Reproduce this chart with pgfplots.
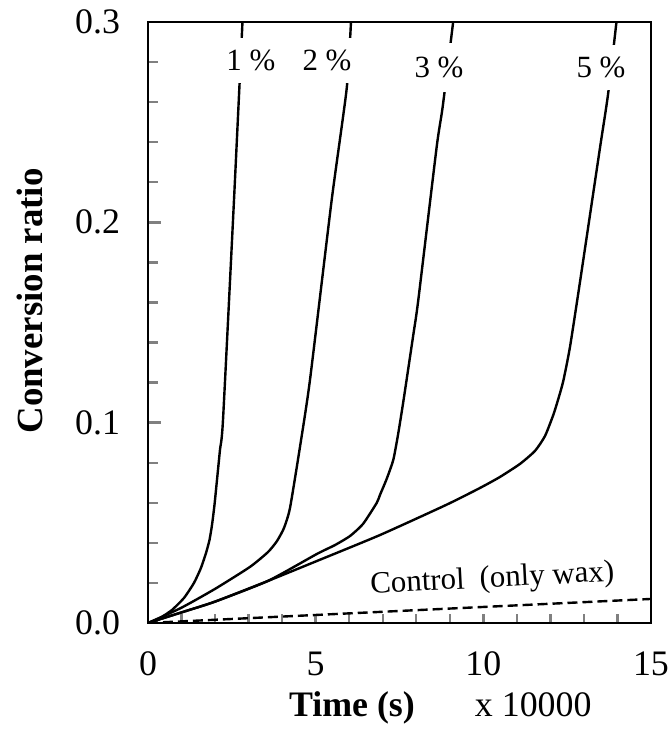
\documentclass[border=0pt]{standalone}
\usepackage{fontspec}
\setmainfont{Liberation Serif}
\usepackage{pgfplots}
\pgfplotsset{compat=1.18}
\begin{document}
\begin{tikzpicture}
\begin{axis}[
  scale only axis,
  width=251.5bp, height=300.5bp,
  xmin=0, xmax=15, ymin=0, ymax=0.3,
  clip mode=individual,
  axis line style={line width=1.4bp},
  tick align=inside,
  xtick pos=bottom, ytick pos=left,
  xtick={0,5,10,15}, ytick={0,0.1,0.2,0.3},
  minor x tick num=4, minor y tick num=4,
  xtick style={line width=1.2bp,/pgfplots/major tick length=4.5bp,/pgfplots/minor tick length=4.5bp},
  ytick style={line width=1.2bp,/pgfplots/major tick length=6.3bp,/pgfplots/minor tick length=5bp},
  /pgf/number format/assume math mode=true,
  yticklabel style={/pgf/number format/fixed,/pgf/number format/fixed zerofill,/pgf/number format/precision=1,xshift=-10.5bp},
  xticklabel style={yshift=-11bp},
  tick label style={font=\fontsize{18}{22}\selectfont},
  scaled y ticks=false,
  xlabel={\textbf{Time (s)}},
  ylabel={\textbf{Conversion ratio}},
  xlabel style={font=\fontsize{18}{22}\selectfont, at={(axis description cs:0.4056,-0.1564)}, anchor=base},
  ylabel style={font=\fontsize{18.5}{22}\selectfont, at={(axis description cs:-0.2346,0.5358)}, anchor=center},
  every axis plot/.append style={black, line width=1.2bp},
]
% 1 %
\addplot[smooth, tension=0.35] coordinates {
(0,0) (0.358,0.0025) (0.716,0.0065) (1.074,0.0125) (1.372,0.0200) (1.580,0.0275)
(1.730,0.0349) (1.834,0.0414) (1.909,0.0489) (1.983,0.0589) (2.058,0.0714)
(2.147,0.0864) (2.237,0.1013) (2.565,0.2111) (2.818,0.30)};
% 2 %
\addplot[smooth, tension=0.35] coordinates {
(0,0) (0.984,0.0075) (1.998,0.0170) (3.042,0.0280) (3.579,0.0354) (3.847,0.0409)
(4.056,0.0474) (4.235,0.0574) (4.533,0.0879) (4.831,0.1213) (5.478,0.2111)
(5.925,0.2666) (6.054,0.30)};
% 3 %
\addplot[smooth, tension=0.35] coordinates {
(0,0) (0.984,0.0052) (1.989,0.0106) (3.579,0.0210) (5.031,0.0344) (5.577,0.0389)
(6.024,0.0434) (6.411,0.0494) (6.820,0.0599) (6.918,0.0639) (7.118,0.0719)
(7.315,0.0814) (7.455,0.0938) (7.613,0.1103) (7.912,0.1438) (8.061,0.1612)
(8.609,0.2376) (8.788,0.2576) (9.101,0.30)};
% 5 %
\addplot[smooth, tension=0.35] coordinates {
(0,0) (0.984,0.0052) (1.989,0.0106) (3.579,0.0210) (5.031,0.0309) (6.918,0.0439)
(8.887,0.0589) (9.901,0.0674) (10.497,0.0729) (11.093,0.0794) (11.541,0.0859)
(11.839,0.0933) (12.086,0.1038) (12.227,0.1113) (12.385,0.1208) (12.585,0.1378)
(12.883,0.1702) (13.479,0.2371) (13.718,0.2636) (13.971,0.30)};
% control
\addplot[line width=1.2bp, dash pattern=on 5bp off 2.5bp] coordinates {
(0,0) (5,0.004) (10,0.008) (15,0.012)};
\node[fill=white, inner xsep=1bp, inner ysep=6bp, font=\fontsize{15.5}{18}\selectfont] at (axis cs:3.07,0.2808) {1 \%};
\node[fill=white, inner xsep=1bp, inner ysep=6bp, font=\fontsize{15.5}{18}\selectfont] at (axis cs:5.34,0.2808) {2 \%};
\node[fill=white, inner xsep=1bp, inner ysep=7bp, font=\fontsize{15.5}{18}\selectfont] at (axis cs:8.68,0.2775) {3 \%};
\node[fill=white, inner xsep=1bp, inner ysep=6bp, font=\fontsize{15.5}{18}\selectfont] at (axis cs:13.51,0.2775) {5 \%};
\node[rotate=3, font=\fontsize{15.5}{18}\selectfont] at (axis cs:10.27,0.0215) {Control\hspace{7.5bp}(only wax)};
\node[anchor=base, font=\fontsize{18}{22}\selectfont] at (axis description cs:0.766,-0.1564) {x 10000};
\coordinate (bbsw) at (rel axis cs:-0.2942,-0.1764);
\coordinate (bbne) at (rel axis cs:1.0378,1.0366);
\end{axis}
\pgfresetboundingbox
\path[use as bounding box] (bbsw) rectangle (bbne);
\end{tikzpicture}
\end{document}
